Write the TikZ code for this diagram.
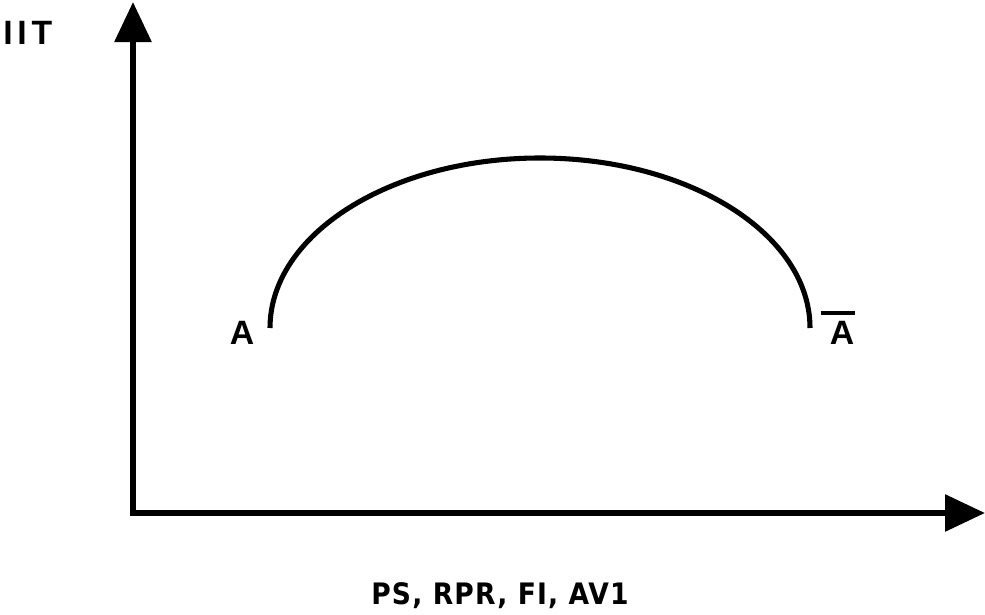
\documentclass[tikz,border=0pt]{standalone}
\usepackage{fontspec}
\setmainfont{Liberation Sans}
\newfontfamily\condfont[LetterSpace=4]{DejaVu Sans Condensed}
\usetikzlibrary{arrows.meta}
\tikzset{
  axis/.style={line width=4.2pt,-{Triangle[length=1cm,width=0.9cm]}},
  curve/.style={line width=3.6pt},
  lbl/.style={font=\bfseries\fontsize{24}{26}\selectfont,inner sep=0pt}
}
\begin{document}
\begin{tikzpicture}[x=0.025cm,y=-0.025cm]
\useasboundingbox (0,0) rectangle (985,615);
% axes
\coordinate (origin) at (133,513);
\coordinate (ytip) at (133,2);
\coordinate (xtip) at (985,513);
\draw[axis] ([yshift=-0.07cm]origin) -- (ytip);
\draw[axis] ([xshift=-0.07cm]origin) -- (xtip);
\node[lbl,anchor=west] (iit) at (3,33) {I\hspace{0.12cm}I\hspace{0.12cm}T};

% curve between the two states
\coordinate (start) at (270,328);
\draw[curve] (start) arc[start angle=180,end angle=0,x radius=270,y radius=-170] coordinate (stop);
\node[lbl] (a) at (242,333) {A};
\node[lbl] (abar) at (842,333) {A};
\draw[line width=2.8pt] ([xshift=-0.22cm,yshift=0.2cm]abar.north west) -- ([xshift=0.02cm,yshift=0.2cm]abar.north east);

\node[font=\condfont\bfseries\fontsize{21}{23}\selectfont,inner sep=0pt] (xlabel) at (500,596) {PS, RPR, FI, AV1};
\end{tikzpicture}
\end{document}
